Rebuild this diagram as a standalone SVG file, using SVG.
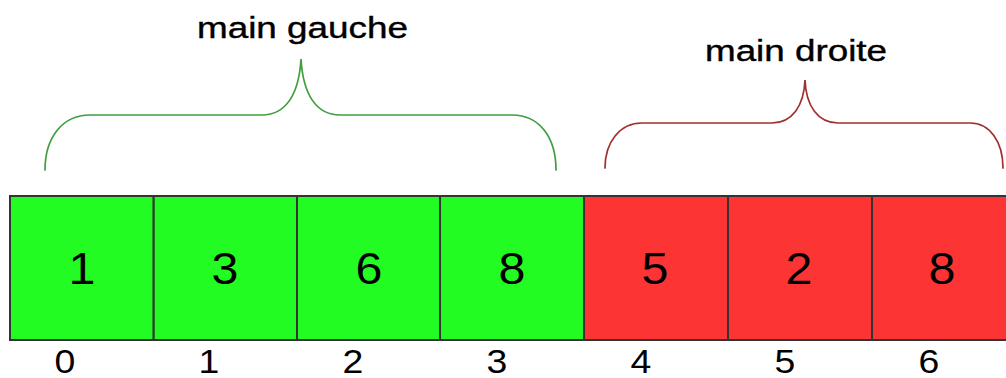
<svg xmlns="http://www.w3.org/2000/svg" width="1006" height="378" viewBox="0 0 1006 378">
  <style>
    .cell { stroke: #333333; stroke-width: 2; }
    .g { fill: #22fc22; }
    .r { fill: #fd3434; }
    .val { font-family: "Liberation Sans", Arial, sans-serif; font-size: 44px; fill: #000; text-anchor: middle; }
    .idx { font-family: "Liberation Sans", Arial, sans-serif; font-size: 34px; fill: #000; text-anchor: middle; }
    .lbl { font-family: "Liberation Sans", Arial, sans-serif; font-size: 30px; fill: #000; stroke: #000; stroke-width: 0.4; }
    .brace { fill: none; stroke-width: 1.7; stroke-linecap: round; }
  </style>
  <rect width="1006" height="378" fill="#ffffff"/>

  <g id="braces">
    <path id="brace-left" class="brace" stroke="#3f9f3f" d="M45,170 C45,138 62,115 90,115 L262,115 C286,115 299,94 301,59 C303,94 316,115 340,115 L512,115 C540,115 556,138 556,170"/>
    <path id="brace-right" class="brace" stroke="#a03030" d="M605,168 C605,142 620,123 642,123 L772,123 C792,123 804,106 805,80 C806,106 818,123 838,123 L970,123 C990,123 1003,142 1003,168"/>
  </g>

  <g id="label-gauche">
    <text class="lbl" x="197" y="38" textLength="211" lengthAdjust="spacingAndGlyphs">main gauche</text>
  </g>
  <g id="label-droite">
    <text class="lbl" x="705" y="61" textLength="182" lengthAdjust="spacingAndGlyphs">main droite</text>
  </g>

  <g id="cell-0"><rect class="cell g" x="10" y="196" width="143.7" height="144"/><g transform="translate(82,284) scale(1.1,1)"><text class="val">1</text></g></g>
  <g id="cell-1"><rect class="cell g" x="153.7" y="196" width="143.3" height="144"/><g transform="translate(225,284) scale(1.1,1)"><text class="val">3</text></g></g>
  <g id="cell-2"><rect class="cell g" x="297" y="196" width="143" height="144"/><g transform="translate(369,284) scale(1.1,1)"><text class="val">6</text></g></g>
  <g id="cell-3"><rect class="cell g" x="440" y="196" width="144" height="144"/><g transform="translate(512,284) scale(1.1,1)"><text class="val">8</text></g></g>
  <g id="cell-4"><rect class="cell r" x="584" y="196" width="144" height="144"/><g transform="translate(655,284) scale(1.1,1)"><text class="val">5</text></g></g>
  <g id="cell-5"><rect class="cell r" x="728" y="196" width="144" height="144"/><g transform="translate(799,284) scale(1.1,1)"><text class="val">2</text></g></g>
  <g id="cell-6"><rect class="cell r" x="872" y="196" width="144" height="144"/><g transform="translate(942,284) scale(1.1,1)"><text class="val">8</text></g></g>

  <g id="indices">
    <g transform="translate(65,373) scale(1.1,1)"><text class="idx">0</text></g>
    <g transform="translate(209,373) scale(1.1,1)"><text class="idx">1</text></g>
    <g transform="translate(353,373) scale(1.1,1)"><text class="idx">2</text></g>
    <g transform="translate(497,373) scale(1.1,1)"><text class="idx">3</text></g>
    <g transform="translate(641,373) scale(1.1,1)"><text class="idx">4</text></g>
    <g transform="translate(785,373) scale(1.1,1)"><text class="idx">5</text></g>
    <g transform="translate(929,373) scale(1.1,1)"><text class="idx">6</text></g>
  </g>
</svg>
